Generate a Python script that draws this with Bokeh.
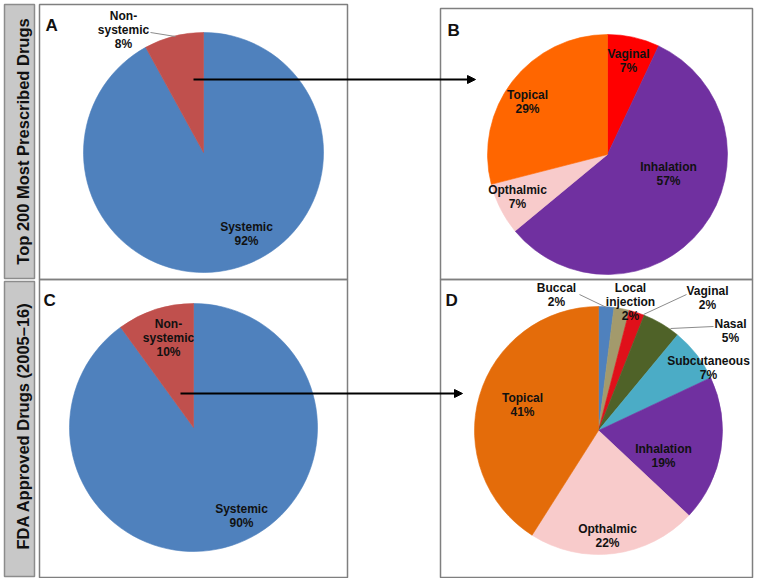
import numpy as np
from bokeh.plotting import figure
from bokeh.models import Range1d, ColumnDataSource, Arrow, NormalHead
from bokeh.core.properties import value
from bokeh.embed import file_html
from bokeh.resources import INLINE

# ---------------- data ----------------
a_names = ["Systemic", "Non-\nsystemic"]
a_values = [92, 8]

b_names = ["Vaginal", "Inhalation", "Opthalmic", "Topical"]
b_values = [7, 57, 7, 29]

c_names = ["Systemic", "Non-\nsystemic"]
c_values = [90, 10]

d_names = ["Buccal", "Local\ninjection", "Vaginal", "Nasal", "Subcutaneous",
           "Inhalation", "Opthalmic", "Topical"]
d_values = [2, 2, 2, 5, 7, 19, 22, 41]

row_titles = ["Top 200 Most Prescribed Drugs", "FDA  Approved Drugs (2005\u201316)"]
panel_letters = ["A", "B", "C", "D"]

# ---------------- styles / layout ----------------
a_colors = ["#4F81BD", "#C0504D"]
b_colors = ["#FF0000", "#7030A0", "#F8CBCB", "#FF6600"]
c_colors = ["#4F81BD", "#C0504D"]
d_colors = ["#4F81BD", "#A39A6C", "#E0101A", "#4F6228", "#4BACC6",
            "#7030A0", "#F8CBCB", "#E46C0A"]

W, H = 754, 578


def Y(y):
    return H - y


p = figure(width=W, height=H, output_backend="svg", toolbar_location=None,
           x_range=Range1d(0, W), y_range=Range1d(0, H), min_border=0)
p.axis.visible = False
p.grid.visible = False
p.outline_line_color = None
p.background_fill_color = "white"

FONT = value("Liberation Sans")
TXT = "#111111"
LINE_STEP = 14

# grey side strips
strips = [(4, 34, 4, 278), (4, 34, 281, 576)]
for (x0, x1, y0, y1) in strips:
    p.quad(left=x0, right=x1, top=Y(y0), bottom=Y(y1),
           fill_color="#C8C8C8", line_color="#8C8C8C", line_width=1.5)

title_pos = [(22, 141), (22, 423)]
for t, (x, y) in zip(row_titles, title_pos):
    p.text(x=[x], y=[Y(y)], text=[t], angle=np.pi / 2, text_font=FONT,
           text_font_style="bold", text_font_size="16.5px", text_color=TXT,
           text_align="center", text_baseline="middle")

# panel frames
frames = [(39, 347, 4, 279), (440, 752, 8, 279), (39, 347, 279, 577), (440, 752, 279, 577)]
for (x0, x1, y0, y1) in frames:
    p.quad(left=x0, right=x1, top=Y(y0), bottom=Y(y1),
           fill_color=None, line_color="#7F7F7F", line_width=1.5)

letter_pos = [(45, 25), (447, 30), (43, 300), (445, 300)]
for t, (x, y) in zip(panel_letters, letter_pos):
    p.text(x=[x], y=[Y(y)], text=[t], text_font=FONT, text_font_style="bold",
           text_font_size="17px", text_color=TXT, text_align="left",
           text_baseline="alphabetic")

# pies: center (ref px), radius, label block-centre offsets (from centre)
pies = [
    dict(names=a_names, values=a_values, colors=a_colors, c=(203, 152), r=120,
         off=[(43, 81.5), (-80, -123)]),
    dict(names=b_names, values=b_values, colors=b_colors, c=(607, 154), r=120,
         off=[(21, -93.5), (61, 19), (-90, 42.5), (-80, -52.5)]),
    dict(names=c_names, values=c_values, colors=c_colors, c=(193, 427), r=124,
         off=[(48, 88.5), (-25, -89.5)]),
    dict(names=d_names, values=d_values, colors=d_colors, c=(598, 430), r=124,
         off=[(-42, -135.5), (32, -128.5), (109, -132.5), (132, -100),
              (110, -63), (65, 25), (9, 105.5), (-76, -26)]),
]

for pie in pies:
    vals = np.array(pie["values"], dtype=float)
    cum = np.concatenate([[0], np.cumsum(vals)]) / vals.sum() * 2 * np.pi
    # clockwise from 12 o'clock -> bokeh anticlockwise angles
    start = np.pi / 2 - cum[1:]
    end = np.pi / 2 - cum[:-1]
    cx, cy = pie["c"]
    src = ColumnDataSource(dict(x=[cx] * len(vals), y=[Y(cy)] * len(vals),
                                start=start, end=end, color=pie["colors"]))
    p.wedge(x="x", y="y", radius=pie["r"], start_angle="start", end_angle="end",
            fill_color="color", line_color="color", line_width=0.6, source=src)
    tx, ty, tt = [], [], []
    for n, v, (dx, dy) in zip(pie["names"], pie["values"], pie["off"]):
        lines = n.split("\n") + [f"{v:g}%"]
        k = len(lines)
        for i, ln in enumerate(lines):
            tx.append(cx + dx)
            ty.append(Y(cy + dy + (i - (k - 1) / 2) * LINE_STEP))
            tt.append(ln)
    p.text(x=tx, y=ty, text=tt, text_font=FONT, text_font_style="bold",
           text_font_size="12px", text_color=TXT, text_align="center",
           text_baseline="middle")

# leader lines (ref px)
leaders = [((150, 32), (175, 36)),
           ((579, 294), (606, 307)),
           ((686, 294), (643, 314)),
           ((713, 326), (670, 328))]
for (x0, y0), (x1, y1) in leaders:
    p.line(x=[x0, x1], y=[Y(y0), Y(y1)], line_color="#8C8C8C", line_width=1)

# arrows
arrows = [((193, 79), (475, 79)), ((180, 393), (462, 393))]
for (x0, y0), (x1, y1) in arrows:
    p.add_layout(Arrow(end=NormalHead(size=8, fill_color="black", line_color="black"),
                       x_start=x0, y_start=Y(y0), x_end=x1, y_end=Y(y1),
                       line_color="black", line_width=2))

open("out.html", "w").write(file_html(p, INLINE))
